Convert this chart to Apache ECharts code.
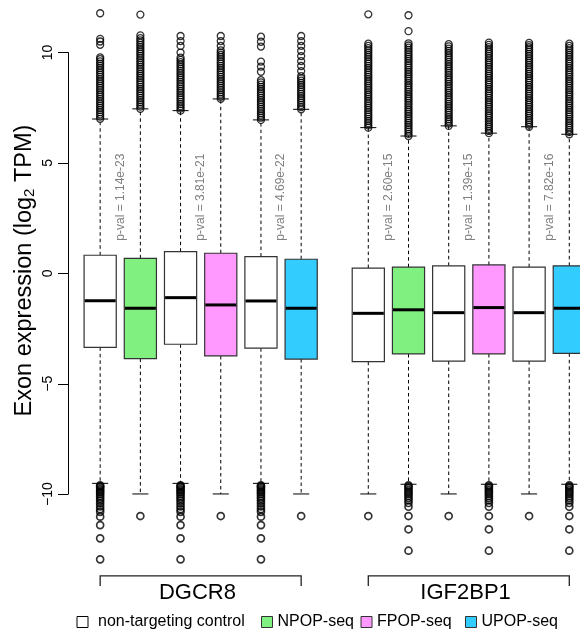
<!DOCTYPE html>
<html><head><meta charset="utf-8">
<script src="https://cdn.jsdelivr.net/npm/echarts@6/dist/echarts.min.js"></script>
<style>html,body{margin:0;padding:0;background:#fff}#c{width:580px;height:633px}</style>
</head><body><div id="c"></div>
<script>
// ---------------- data ----------------
const positions = [1, 2, 3, 4, 5, 6, 7.67, 8.67, 9.67, 10.67, 11.67, 12.67];
const boxCondition = [0, 1, 0, 2, 0, 3, 0, 1, 0, 2, 0, 3];
const conditions = ['non-targeting control', 'NPOP-seq', 'FPOP-seq', 'UPOP-seq'];
const groups = ['DGCR8', 'IGF2BP1'];
const groupBoxes = [[0, 5], [6, 11]];

const whiskerLow  = [-9.51, -9.99, -9.51, -9.99, -9.51, -9.99, -9.99, -9.55, -9.99, -9.55, -9.99, -9.55];
const q1          = [-3.35, -3.86, -3.21, -3.74, -3.39, -3.88, -4.00, -3.65, -3.97, -3.65, -3.97, -3.62];
const median      = [-1.24, -1.58, -1.10, -1.43, -1.25, -1.58, -1.81, -1.65, -1.78, -1.55, -1.78, -1.58];
const q3          = [0.82, 0.68, 0.98, 0.91, 0.76, 0.64, 0.24, 0.28, 0.34, 0.38, 0.28, 0.34];
const whiskerHigh = [6.99, 7.45, 7.37, 7.90, 6.95, 7.43, 6.60, 6.22, 6.68, 6.35, 6.64, 6.30];

const outliersHigh = [
  [7.0,7.1,7.2,7.3,7.4,7.5,7.6,7.7,7.8,7.9,8.0,8.1,8.2,8.3,8.4,8.5,8.6,8.7,8.8,8.9,9.0,9.1,9.2,9.3,9.4,9.5,9.6,9.7,9.78,10.35,10.5,10.62,11.78],
  [7.45,7.55,7.65,7.75,7.85,7.95,8.05,8.15,8.25,8.35,8.45,8.55,8.65,8.75,8.85,8.95,9.05,9.15,9.25,9.35,9.45,9.55,9.65,9.75,9.85,9.95,10.05,10.15,10.25,10.35,10.45,10.55,10.65,10.78,11.72],
  [7.37,7.47,7.57,7.67,7.77,7.87,7.97,8.07,8.17,8.27,8.37,8.47,8.57,8.67,8.77,8.87,8.97,9.07,9.17,9.27,9.37,9.47,9.57,9.67,9.77,10.0,10.3,10.52,10.75],
  [7.9,8.0,8.1,8.2,8.3,8.4,8.5,8.6,8.7,8.8,8.9,9.0,9.1,9.2,9.3,9.4,9.5,9.6,9.7,9.8,9.9,10.0,10.1,10.3,10.52,10.75],
  [6.95,7.05,7.15,7.25,7.35,7.45,7.55,7.65,7.75,7.85,7.95,8.05,8.15,8.25,8.35,8.45,8.55,8.65,8.75,9.13,9.36,9.59,10.27,10.49,10.72],
  [7.43,7.53,7.63,7.73,7.83,7.93,8.03,8.13,8.23,8.33,8.43,8.53,8.63,8.73,8.83,8.93,9.16,9.39,9.61,9.84,10.07,10.3,10.52,10.75],
  [6.6,6.7,6.8,6.9,7.0,7.1,7.2,7.3,7.4,7.5,7.6,7.7,7.8,7.9,8.0,8.1,8.2,8.3,8.4,8.5,8.6,8.7,8.8,8.9,9.0,9.1,9.2,9.3,9.4,9.5,9.6,9.7,9.8,9.9,10.0,10.1,10.2,10.3,10.4,11.73],
  [6.22,6.32,6.42,6.52,6.62,6.72,6.82,6.92,7.02,7.12,7.22,7.32,7.42,7.52,7.62,7.72,7.82,7.92,8.02,8.12,8.22,8.32,8.42,8.52,8.62,8.72,8.82,8.92,9.02,9.12,9.22,9.32,9.42,9.52,9.62,9.72,9.82,9.92,10.02,10.12,10.22,10.32,10.42,10.97,11.69],
  [6.68,6.78,6.88,6.98,7.08,7.18,7.28,7.38,7.48,7.58,7.68,7.78,7.88,7.98,8.08,8.18,8.28,8.38,8.48,8.58,8.68,8.78,8.88,8.98,9.08,9.18,9.28,9.38,9.48,9.58,9.68,9.78,9.88,9.98,10.08,10.18,10.28,10.38],
  [6.35,6.45,6.55,6.65,6.75,6.85,6.95,7.05,7.15,7.25,7.35,7.45,7.55,7.65,7.75,7.85,7.95,8.05,8.15,8.25,8.35,8.45,8.55,8.65,8.75,8.85,8.95,9.05,9.15,9.25,9.35,9.45,9.55,9.65,9.75,9.85,9.95,10.05,10.15,10.25,10.35,10.45],
  [6.64,6.74,6.84,6.94,7.04,7.14,7.24,7.34,7.44,7.54,7.64,7.74,7.84,7.94,8.04,8.14,8.24,8.34,8.44,8.54,8.64,8.74,8.84,8.94,9.04,9.14,9.24,9.34,9.44,9.54,9.64,9.74,9.84,9.94,10.04,10.14,10.24,10.34,10.44],
  [6.3,6.4,6.5,6.6,6.7,6.8,6.9,7.0,7.1,7.2,7.3,7.4,7.5,7.6,7.7,7.8,7.9,8.0,8.1,8.2,8.3,8.4,8.5,8.6,8.7,8.8,8.9,9.0,9.1,9.2,9.3,9.4,9.5,9.6,9.7,9.8,9.9,10.0,10.1,10.2,10.3,10.4]
];
const outliersLow = [
  [-9.6,-9.65,-9.7,-9.78,-9.85,-9.92,-10.0,-10.1,-10.2,-10.3,-10.42,-10.55,-10.68,-10.8,-11.02,-11.4,-12.0,-12.95],
  [-10.99],
  [-9.6,-9.65,-9.7,-9.78,-9.85,-9.92,-10.0,-10.1,-10.2,-10.3,-10.42,-10.55,-10.68,-10.8,-11.02,-11.4,-12.0,-12.95],
  [-10.99],
  [-9.6,-9.65,-9.7,-9.78,-9.85,-9.92,-10.0,-10.1,-10.2,-10.3,-10.42,-10.55,-10.68,-10.8,-11.02,-11.4,-12.0,-12.95],
  [-10.99],
  [-10.99],
  [-9.6,-9.66,-9.73,-9.82,-9.9,-9.98,-10.08,-10.18,-10.28,-10.4,-10.57,-10.99,-11.59,-12.56],
  [-10.99],
  [-9.6,-9.66,-9.73,-9.82,-9.9,-9.98,-10.08,-10.18,-10.28,-10.4,-10.57,-10.99,-11.59,-12.56],
  [-10.99],
  [-9.6,-9.66,-9.73,-9.82,-9.9,-9.98,-10.08,-10.18,-10.28,-10.4,-10.57,-10.99,-11.59,-12.56]
];
const pvalLabels = ['p-val = 1.14e-23', 'p-val = 3.81e-21', 'p-val = 4.69e-22', 'p-val = 2.60e-15', 'p-val = 1.39e-15', 'p-val = 7.82e-16'];
const pvalPairs = [[0, 1], [2, 3], [4, 5], [6, 7], [8, 9], [10, 11]];
const yTicks = [-10, -5, 0, 5, 10];

// ---------------- styles / layout ----------------
const FONT = '"Liberation Sans", Arial, Helvetica, sans-serif';
const condColors = ['#ffffff', '#80f080', '#ff99ff', '#33ccff'];
const X_MIN = 0.2, X_MAX = 13.5, Y_MIN = -14, Y_MAX = 12.38;
const PX_PER_Y = 582.5 / (Y_MAX - Y_MIN);
const PVAL_Y = 3.45, BRACKET_TOP = -13.70, BRACKET_BOT = -14.16, GROUP_LABEL_Y = -14.49;

function boxRender(params, api) {
  const x = api.value(0);
  const pLo = api.coord([x, api.value(1)]);
  const pQ1 = api.coord([x, api.value(2)]);
  const pMd = api.coord([x, api.value(3)]);
  const pQ3 = api.coord([x, api.value(4)]);
  const pHi = api.coord([x, api.value(5)]);
  const w = api.size([0.8, 0])[0];
  const cw = api.size([0.4, 0])[0];
  const cx = pMd[0];
  const fill = condColors[api.value(6)];
  const dash = { stroke: '#000', lineWidth: 1, lineDash: [3.5, 3] };
  const solid = { stroke: '#000', lineWidth: 1 };
  return { type: 'group', children: [
    { type: 'line', shape: { x1: cx, y1: pQ3[1], x2: cx, y2: pHi[1] }, style: dash },
    { type: 'line', shape: { x1: cx, y1: pQ1[1], x2: cx, y2: pLo[1] }, style: dash },
    { type: 'line', shape: { x1: cx - cw / 2, y1: pHi[1], x2: cx + cw / 2, y2: pHi[1] }, style: solid },
    { type: 'line', shape: { x1: cx - cw / 2, y1: pLo[1], x2: cx + cw / 2, y2: pLo[1] }, style: solid },
    { type: 'rect', shape: { x: cx - w / 2, y: pQ3[1], width: w, height: pQ1[1] - pQ3[1] },
      style: { fill: fill, stroke: '#333', lineWidth: 1.2 } },
    { type: 'line', shape: { x1: cx - w / 2 + 0.6, y1: pMd[1], x2: cx + w / 2 - 0.6, y2: pMd[1] },
      style: { stroke: '#000', lineWidth: 3 } }
  ]};
}

const boxSeries = conditions.map((name, c) => ({
  type: 'custom', name: name, renderItem: boxRender, silent: true, z: 3,
  itemStyle: { color: condColors[c], borderColor: c === 0 ? '#000' : '#333', borderWidth: 1 },
  encode: { x: 0, y: [1, 2, 3, 4, 5] },
  data: positions.map((p, i) => i).filter(i => boxCondition[i] === c)
    .map(i => [positions[i], whiskerLow[i], q1[i], median[i], q3[i], whiskerHigh[i], c])
}));

const highPts = [], lowPts = [];
positions.forEach((p, i) => {
  outliersHigh[i].forEach(v => highPts.push([p, v]));
  outliersLow[i].forEach(v => lowPts.push([p, v]));
});

const outlierStyle = (bw) => ({ color: 'rgba(0,0,0,0)', borderColor: '#000', borderWidth: bw });

const pvalSeries = {
  type: 'custom', silent: true, z: 4,
  data: pvalPairs.map((pr, k) => [(positions[pr[0]] + positions[pr[1]]) / 2, PVAL_Y, k]),
  encode: { x: 0, y: 1 },
  renderItem: function (params, api) {
    const p = api.coord([api.value(0), api.value(1)]);
    return { type: 'text', x: p[0], y: p[1], rotation: Math.PI / 2,
      style: { text: pvalLabels[api.value(2)], fill: '#7f7f7f', fontSize: 12, fontFamily: FONT,
        align: 'center', verticalAlign: 'middle' } };
  }
};

const groupSeries = {
  type: 'custom', silent: true, z: 6, clip: false,
  data: groupBoxes.map((g, k) => [positions[g[0]], positions[g[1]], k]),
  encode: { x: [0, 1] },
  renderItem: function (params, api) {
    const a = api.value(0), b = api.value(1);
    const pa1 = api.coord([a, BRACKET_BOT]), pa2 = api.coord([a, BRACKET_TOP]);
    const pb1 = api.coord([b, BRACKET_BOT]), pb2 = api.coord([b, BRACKET_TOP]);
    const pl = api.coord([(a + b) / 2 - 0.08, GROUP_LABEL_Y]);
    return { type: 'group', children: [
      { type: 'polyline', shape: { points: [pa1, pa2, pb2, pb1] },
        style: { stroke: '#222', lineWidth: 1.3, fill: null } },
      { type: 'text', x: pl[0], y: pl[1],
        style: { text: groups[api.value(2)], fill: '#000', fontSize: 22, fontFamily: FONT,
          align: 'center', verticalAlign: 'middle' } }
    ]};
  }
};

const legendLeft = [76.5, 261, 360.5, 465];
const legends = conditions.map((name, i) => ({
  data: [name], left: legendLeft[i], top: 614, padding: 0, icon: 'rect',
  itemWidth: 11, itemHeight: 11, selectedMode: false,
  itemStyle: { borderColor: i === 0 ? '#000' : '#333', borderWidth: 1 },
  textStyle: { fontSize: 16, color: '#000', fontFamily: FONT, padding: i === 0 ? [0, 0, 0, 5] : 0 }
}));

// second (axis-only) grid: its y axis spans exactly the tick range, as in the R plot
const tickMin = yTicks[0], tickMax = yTicks[yTicks.length - 1];
const axisGridTop = (Y_MAX - tickMax) * PX_PER_Y;
const axisGridHeight = (tickMax - tickMin) * PX_PER_Y;

const chart = echarts.init(document.getElementById('c'), null, { renderer: 'canvas' });
chart.setOption({
  animation: false,
  backgroundColor: '#fff',
  textStyle: { fontFamily: FONT },
  grid: [
    { left: 68, top: 0, width: (X_MAX - X_MIN) * 40.2, height: 582.5, containLabel: false, outerBoundsMode: 'none' },
    { left: 68, top: axisGridTop, width: 20, height: axisGridHeight, containLabel: false, outerBoundsMode: 'none' }
  ],
  xAxis: [
    { type: 'value', min: X_MIN, max: X_MAX, show: false, gridIndex: 0 },
    { type: 'value', min: 0, max: 1, show: false, gridIndex: 1 }
  ],
  yAxis: [
    { type: 'value', min: Y_MIN, max: Y_MAX, show: false, gridIndex: 0 },
    { type: 'value', gridIndex: 1, min: tickMin, max: tickMax, interval: 5, position: 'left',
      axisLine: { show: true, lineStyle: { color: '#000', width: 1 } },
      splitLine: { show: false },
      axisTick: { show: true, length: 10, lineStyle: { color: '#000', width: 1 } },
      axisLabel: { rotate: 90, margin: 13, fontSize: 14, color: '#000', fontFamily: FONT,
        formatter: v => (v < 0 ? '\u2212' + Math.abs(v) : String(v)) } }
  ],
  legend: legends,
  graphic: [
    { type: 'text', x: 25, y: 270.5, rotation: Math.PI / 2, z: 10,
      style: { text: 'Exon expression (log{sub|2} TPM)', fill: '#000', fontSize: 23.5, fontFamily: FONT,
        align: 'center', verticalAlign: 'middle',
        rich: { sub: { fontSize: 15, fontFamily: FONT, verticalAlign: 'bottom', lineHeight: 8 } } } }
  ],
  series: [
    ...boxSeries,
    { type: 'scatter', silent: true, z: 5, symbol: 'circle', symbolSize: 7,
      itemStyle: outlierStyle(1.3), data: highPts },
    { type: 'scatter', silent: true, z: 5, symbol: 'circle', symbolSize: 7,
      itemStyle: outlierStyle(1.7), data: lowPts },
    pvalSeries,
    groupSeries
  ]
});
</script></body></html>
